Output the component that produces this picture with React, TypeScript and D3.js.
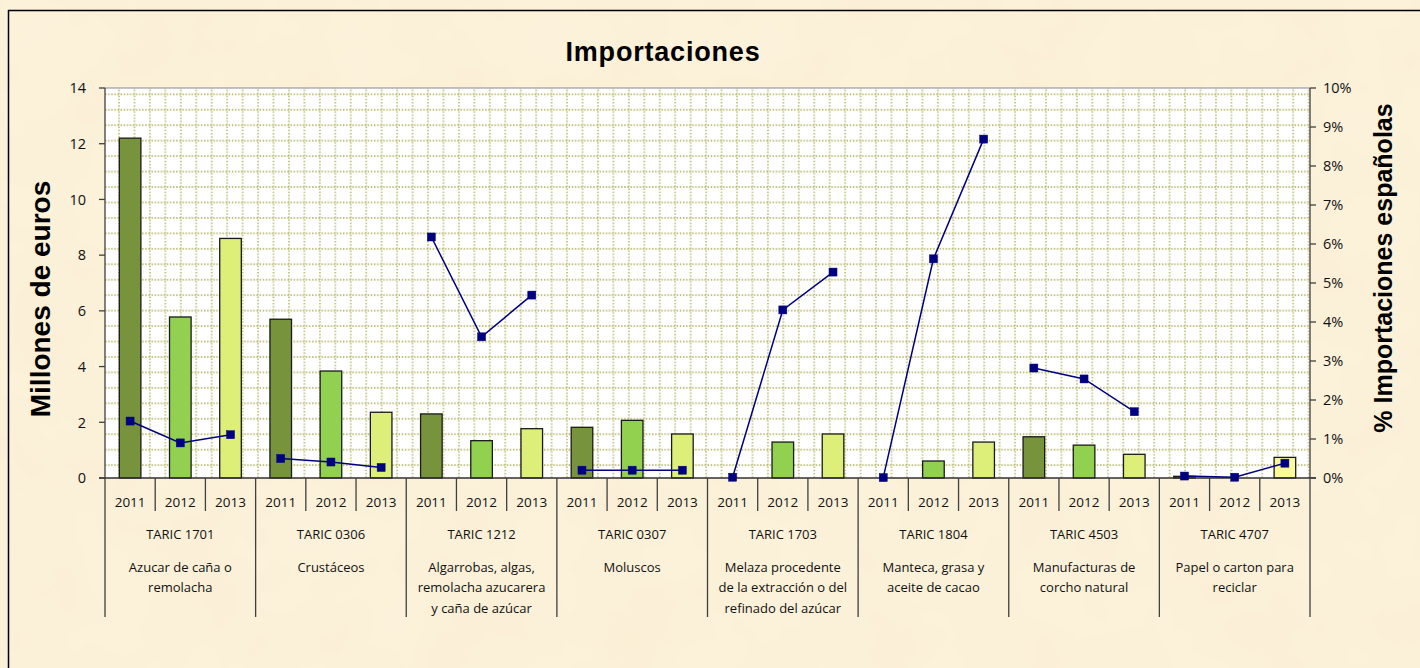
import React from "react";
import * as d3 from "d3";

// --- data ---
const codes = ["TARIC 1701", "TARIC 0306", "TARIC 1212", "TARIC 0307", "TARIC 1703", "TARIC 1804", "TARIC 4503", "TARIC 4707"];
const descriptions = [
  ["Azucar de caña o", "remolacha"],
  ["Crustáceos"],
  ["Algarrobas, algas,", "remolacha azucarera", "y caña de azúcar"],
  ["Moluscos"],
  ["Melaza procedente", "de la extracción o del", "refinado del azúcar"],
  ["Manteca, grasa y", "aceite de cacao"],
  ["Manufacturas de", "corcho natural"],
  ["Papel o carton para", "reciclar"],
];
const years = ["2011", "2012", "2013"];

// millones de euros, one array per year
const euros2011 = [12.2, 5.7, 2.3, 1.82, 0, 0, 1.48, 0.06];
const euros2012 = [5.78, 3.84, 1.34, 2.07, 1.29, 0.61, 1.18, 0];
const euros2013 = [8.6, 2.36, 1.77, 1.58, 1.58, 1.29, 0.85, 0.74];

// % importaciones españolas
const pct2011 = [0.0146, 0.005, 0.0618, 0.002, 0.0002, 0.0001, 0.0282, 0.0005];
const pct2012 = [0.009, 0.0041, 0.0362, 0.002, 0.0431, 0.0562, 0.0254, 0.0002];
const pct2013 = [0.0111, 0.0027, 0.0469, 0.002, 0.0528, 0.0869, 0.017, 0.0038];

const leftTicks = [0, 2, 4, 6, 8, 10, 12, 14];
const rightTicks = [0, 0.01, 0.02, 0.03, 0.04, 0.05, 0.06, 0.07, 0.08, 0.09, 0.1];

const W = 1420;
const H = 668;
const plot = { left: 105, right: 1310, top: 88, bottom: 478 };
const barColors = ["#77933C", "#92D050", "#DDEF78"];
const lineColor = "#000080";
const small = "'Open Sans', 'Noto Sans', sans-serif";
const bold = "'Liberation Sans', Arial, sans-serif";

export default function App() {
  const euros = [euros2011, euros2012, euros2013];
  const pcts = [pct2011, pct2012, pct2013];

  const xGroup = d3.scaleBand<string>().domain(codes).range([plot.left, plot.right]).padding(0);
  const xYear = d3.scaleBand<string>().domain(years).range([0, xGroup.bandwidth()]).padding(0);
  const yLeft = d3.scaleLinear().domain([0, 14]).range([plot.bottom, plot.top]);
  const yRight = d3.scaleLinear().domain([0, 0.1]).range([plot.bottom, plot.top]);
  const barW = xYear.bandwidth() * 0.43;
  const cx = (ci: number, yi: number) => (xGroup(codes[ci]) as number) + (xYear(years[yi]) as number) + xYear.bandwidth() / 2;

  const line = d3.line<[number, number]>();
  const cell = 15.45;

  return (
    <svg width={W} height={H} style={{ position: "fixed", left: 0, top: 0, display: "block" }}>
      <defs>
        <filter id="parch" x="0" y="0" width="100%" height="100%">
          <feTurbulence type="fractalNoise" baseFrequency="0.012" numOctaves="3" seed="4" />
          <feColorMatrix type="matrix" values="0 0 0 0 0.93  0 0 0 0 0.84  0 0 0 0 0.6  0 0 0 0.35 -0.05" />
        </filter>
        <pattern id="grid" patternUnits="userSpaceOnUse" width={cell} height={cell} x={111.3} y={86.6}>
          <line x1={0} x2={cell} y1={cell / 2} y2={cell / 2} stroke="#a4a443" strokeWidth={1.25} strokeDasharray="1.4 1.69" />
          <line y1={0} y2={cell} x1={cell / 2} x2={cell / 2} stroke="#a4a443" strokeWidth={1.25} strokeDasharray="1.4 1.69" />
        </pattern>
      </defs>

      {/* parchment background */}
      <rect width={W} height={H} fill="#FCF1DA" />
      <rect width={W} height={H} filter="url(#parch)" />
      <line x1={8} x2={W} y1={10.5} y2={10.5} stroke="#000" strokeWidth={1.5} />
      <line x1={8.5} x2={8.5} y1={10} y2={H} stroke="#000" strokeWidth={1.5} />

      <text x={663} y={61} textAnchor="middle" fontFamily={bold} fontWeight="bold" fontSize={27} letterSpacing={0.8}>
        Importaciones
      </text>

      {/* plot area */}
      <rect x={plot.left} y={plot.top} width={plot.right - plot.left} height={plot.bottom - plot.top} fill="#fff" />
      <rect x={plot.left} y={plot.top} width={plot.right - plot.left} height={plot.bottom - plot.top} fill="url(#grid)" />
      <line x1={plot.left} x2={plot.right} y1={plot.top} y2={plot.top} stroke="#8a8a8a" strokeWidth={1} />

      {/* bars */}
      {codes.map((c, ci) =>
        years.map((yr, yi) => {
          const v = euros[yi][ci];
          if (v <= 0) return null;
          const fill = ci === codes.length - 1 && yi === 2 ? "#FAFA98" : barColors[yi];
          return (
            <rect
              key={c + yr}
              x={cx(ci, yi) - barW / 2}
              y={yLeft(v)}
              width={barW}
              height={yLeft(0) - yLeft(v)}
              fill={fill}
              stroke="#1a1a1a"
              strokeWidth={1.3}
            />
          );
        })
      )}

      {/* axes */}
      <line x1={plot.left} x2={plot.left} y1={plot.top} y2={plot.bottom} stroke="#404040" strokeWidth={1.3} />
      <line x1={plot.right} x2={plot.right} y1={plot.top} y2={plot.bottom} stroke="#404040" strokeWidth={1.3} />
      <line x1={plot.left - 6} x2={plot.right + 6} y1={plot.bottom} y2={plot.bottom} stroke="#303030" strokeWidth={1.5} />
      {leftTicks.map((t) => (
        <g key={"l" + t}>
          <line x1={plot.left - 6} x2={plot.left} y1={yLeft(t)} y2={yLeft(t)} stroke="#404040" strokeWidth={1.3} />
          <text x={86} y={yLeft(t)} dy="0.36em" textAnchor="end" fontFamily={small} fontSize={14.5} fill="#111">
            {t}
          </text>
        </g>
      ))}
      {rightTicks.map((t) => (
        <g key={"r" + t}>
          <line x1={plot.right} x2={plot.right + 6} y1={yRight(t)} y2={yRight(t)} stroke="#404040" strokeWidth={1.3} />
          <text x={1323} y={yRight(t)} dy="0.36em" fontFamily={small} fontSize={14.5} fill="#111">
            {d3.format(".0%")(t)}
          </text>
        </g>
      ))}

      {/* category axis */}
      {codes.map((c, ci) => {
        const g0 = xGroup(c) as number;
        const gm = g0 + xGroup.bandwidth() / 2;
        return (
          <g key={"cat" + c}>
            <line x1={g0} x2={g0} y1={plot.bottom} y2={617} stroke="#404040" strokeWidth={1.3} />
            {years.map((yr, yi) => (
              <g key={yr}>
                {yi > 0 && (
                  <line
                    x1={g0 + (xYear(yr) as number)}
                    x2={g0 + (xYear(yr) as number)}
                    y1={plot.bottom}
                    y2={511}
                    stroke="#404040"
                    strokeWidth={1.3}
                  />
                )}
                <text x={cx(ci, yi)} y={502} dy="0.36em" textAnchor="middle" fontFamily={small} fontSize={13.5} fill="#111">
                  {yr}
                </text>
              </g>
            ))}
            <text x={gm} y={534} dy="0.36em" textAnchor="middle" fontFamily={small} fontSize={13} fill="#111">
              {c}
            </text>
            {descriptions[ci].map((s, li) => (
              <text key={li} x={gm} y={567.3 + li * 20.4} dy="0.36em" textAnchor="middle" fontFamily={small} fontSize={13} fill="#111">
                {s}
              </text>
            ))}
          </g>
        );
      })}
      <line x1={plot.right} x2={plot.right} y1={plot.bottom} y2={617} stroke="#404040" strokeWidth={1.3} />

      {/* % line, one segment per TARIC group */}
      {codes.map((c, ci) => {
        const pts: [number, number][] = years.map((_, yi) => [cx(ci, yi), yRight(pcts[yi][ci])]);
        return (
          <g key={"ln" + c}>
            <path d={line(pts) || ""} fill="none" stroke={lineColor} strokeWidth={1.5} />
            {pts.map((p, i) => (
              <rect key={i} x={p[0] - 4} y={p[1] - 4} width={8} height={8} fill={lineColor} stroke={lineColor} strokeWidth={0.5} />
            ))}
          </g>
        );
      })}

      {/* axis titles */}
      <text
        transform={`translate(50,299) rotate(-90)`}
        textAnchor="middle"
        fontFamily={bold}
        fontWeight="bold"
        fontSize={28}
        fill="#000"
      >
        Millones de euros
      </text>
      <text
        transform={`translate(1392,268) rotate(-90)`}
        textAnchor="middle"
        fontFamily={bold}
        fontWeight="bold"
        fontSize={25}
        fill="#000"
      >
        % Importaciones españolas
      </text>
    </svg>
  );
}
